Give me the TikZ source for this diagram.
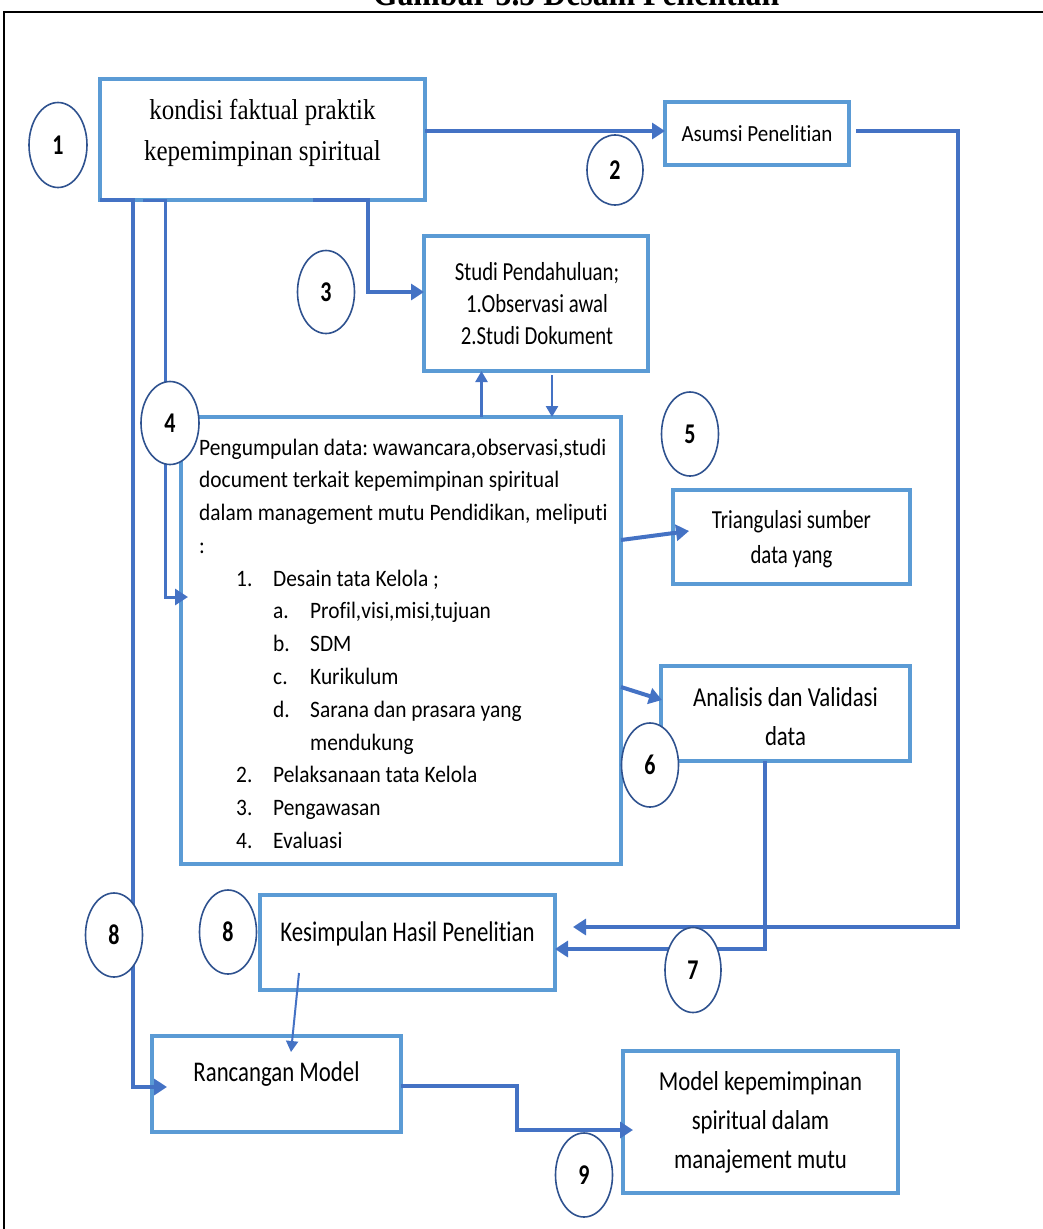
\documentclass[tikz,border=0pt]{standalone}
\usepackage{fontspec}
\setmainfont{Carlito}[Ligatures=NoCommon]
\newfontfamily\tnr{Liberation Serif}[Ligatures=NoCommon]
\usepackage{graphicx}
\usetikzlibrary{arrows.meta,calc,shapes.geometric}
\definecolor{boxblue}{RGB}{91,155,213}
\definecolor{lineblue}{RGB}{68,114,196}
\definecolor{navyc}{RGB}{47,82,143}
\newcommand\vst[3]{\scalebox{1}[#1]{\begin{tabular}{@{}#2@{}}#3\end{tabular}}}
\newcommand\vsl[2]{\scalebox{1}[#1]{#2}}
\frenchspacing
\begin{document}
\begin{tikzpicture}[x=1pt,y=-1pt,
  box/.style={rectangle,draw=boxblue,line width=3.2pt,inner sep=0pt,outer sep=0pt,anchor=north west},
  numc/.style={ellipse,draw=navyc,line width=1.6pt,fill=white,inner sep=0pt,minimum width=57pt,minimum height=84pt,font=\fontsize{22}{26}\selectfont\bfseries},
  conn/.style={draw=lineblue,line width=3.5pt},
  arrowbig/.style={-{Triangle[length=13pt,width=16pt]}},
  arrowsmall/.style={-{Triangle[length=11pt,width=12pt]}},
  lbl/.style={inner sep=0pt}]
\useasboundingbox (0,0) rectangle (1043,1229);
\clip (0,0) rectangle (1043,1229);
% frame and title
\draw[black,line width=1.5pt] (1060,12) -- (4,12) -- (4,1240);
\node[lbl,anchor=base,font=\tnr\bfseries\fontsize{31.8}{36}\selectfont] (title) at (576,5) {\vsl{1.15}{Gambar 3.5 Desain Penelitian}};
% boxes
\node[box,minimum width=325pt,minimum height=121pt] (b1) at (100,79) {};
\node[box,minimum width=184pt,minimum height=63pt] (asumsi) at (665,102) {};
\node[box,minimum width=224pt,minimum height=135pt] (studi) at (424,236) {};
\node[box,minimum width=440pt,minimum height=447pt] (kumpul) at (181,417) {};
\node[box,minimum width=237pt,minimum height=94pt] (tri) at (673,490) {};
\node[box,minimum width=249pt,minimum height=95pt] (anal) at (661,666) {};
\node[box,minimum width=295pt,minimum height=95pt] (kes) at (260,895) {};
\node[box,minimum width=249pt,minimum height=96pt] (ranc) at (152,1036) {};
\node[box,minimum width=275pt,minimum height=142pt] (model) at (623,1051) {};
% texts
\node[lbl,font=\tnr\fontsize{25}{34.8}\selectfont] (t1) at (262.5,132) {\vst{1.15}{c}{kondisi faktual praktik\\kepemimpinan spiritual}};
\node[lbl,anchor=base,font=\fontsize{21}{24}\selectfont] (t2) at (757,141.7) {\vsl{1.1}{Asumsi Penelitian}};
\node[lbl,font=\fontsize{20.8}{25.6}\selectfont] (t3) at (537,306) {\vst{1.25}{c}{Studi Pendahuluan;\\1.Observasi awal\\2.Studi Dokument}};
\node[lbl,anchor=west,font=\fontsize{21.4}{29.8}\selectfont] (t4) at (199,645.2) {\vst{1.1}{l}{Pengumpulan data: wawancara,observasi,studi\\
document terkait kepemimpinan spiritual\\
dalam management mutu Pendidikan, meliputi\\
:\\
\hspace*{37pt}\makebox[37pt][l]{1.}Desain tata Kelola ;\\
\hspace*{74pt}\makebox[37pt][l]{a.}Profil,visi,misi,tujuan\\
\hspace*{74pt}\makebox[37pt][l]{b.}SDM\\
\hspace*{74pt}\makebox[37pt][l]{c.}Kurikulum\\
\hspace*{74pt}\makebox[37pt][l]{d.}Sarana dan prasara yang\\
\hspace*{111pt}mendukung\\
\hspace*{37pt}\makebox[37pt][l]{2.}Pelaksanaan tata Kelola\\
\hspace*{37pt}\makebox[37pt][l]{3.}Pengawasan\\
\hspace*{37pt}\makebox[37pt][l]{4.}Evaluasi}};
\node[lbl,font=\fontsize{20.8}{28}\selectfont] (t5) at (791.5,538.5) {\vst{1.25}{c}{Triangulasi sumber\\data yang}};
\node[lbl,font=\fontsize{22.8}{32.5}\selectfont] (t6) at (785.5,717.7) {\vst{1.2}{c}{Analisis dan Validasi\\data}};
\node[lbl,anchor=base,font=\fontsize{22.8}{27}\selectfont] (t7) at (407.5,941.7) {\vsl{1.25}{Kesimpulan Hasil Penelitian}};
\node[lbl,anchor=base,font=\fontsize{22.8}{27}\selectfont] (t8) at (276.5,1081.7) {\vsl{1.25}{Rancangan Model}};
\node[lbl,font=\fontsize{22.8}{32.3}\selectfont] (t9) at (760.5,1121.6) {\vst{1.2}{c}{Model kepemimpinan\\spiritual dalam\\manajement mutu}};
% connectors
\coordinate (rc) at (958,927);
\coordinate (m9) at (517,1086);
\draw[conn,line width=3.5pt,arrowbig] ([yshift=8.5pt]b1.east) -- ([yshift=8.5pt]b1.east -| asumsi.west);
\draw[conn,line width=4.5pt,arrowbig] ([xshift=7pt,yshift=2.5pt]asumsi.east) -| (rc) -- ([xshift=18pt]kes.east |- rc);
\draw[conn,line width=4.5pt,arrowbig] ([xshift=-20.5pt]anal.south) |- ([yshift=-6.5pt]kes.east);
\draw[conn,arrowbig] ([xshift=50.5pt]b1.south) -- ([xshift=105.5pt]b1.south) |- ([yshift=11.5pt]studi.west);
\draw[conn,line width=3pt,arrowbig] ([xshift=-119.5pt]b1.south) -- ([xshift=-97.5pt]b1.south) |- ([xshift=7pt,yshift=43.5pt]kumpul.west);
\draw[conn,arrowbig] ([xshift=-162.5pt]b1.south) -- ([xshift=-129.5pt]b1.south) |- ([xshift=15pt,yshift=-3pt]ranc.west);
\draw[conn,line width=2.5pt,arrowsmall] ([xshift=-54.5pt]studi.south |- kumpul.north) -- ([xshift=-54.5pt]studi.south);
\draw[conn,line width=2.5pt,arrowsmall] ([xshift=16pt,yshift=-4pt]studi.south) -- ([xshift=16pt]studi.south |- kumpul.north);
\draw[conn,line width=4pt,arrowbig] ([yshift=100.5pt]kumpul.east) -- ([xshift=16pt,yshift=6pt]tri.west);
\draw[conn,line width=4pt,arrowbig] ([yshift=-46.5pt]kumpul.east) -- ([xshift=1pt,yshift=13.5pt]anal.west);
\draw[conn,line width=2pt,arrowsmall] ([xshift=-108.5pt,yshift=17pt]kes.south) -- ([xshift=14.5pt,yshift=-16pt]ranc.north);
\draw[conn,line width=4.5pt,arrowbig] ([yshift=-2pt]ranc.east) -- (m9) |- ([xshift=10pt,yshift=-8pt]model.west);
% numbered ellipses
\node[numc,minimum width=58pt,minimum height=85pt] (n1) at (58,145) {\vsl{1.3}{1}};
\node[numc,minimum width=56pt,minimum height=70pt] (n2) at (615,170) {\vsl{1.3}{2}};
\node[numc,minimum height=83pt] (n3) at (326,292) {\vsl{1.3}{3}};
\node[numc,minimum width=58pt,minimum height=83pt] (n4) at (170,423) {\vsl{1.3}{4}};
\node[numc] (n5) at (690,434) {\vsl{1.3}{5}};
\node[numc] (n6) at (650,765) {\vsl{1.3}{6}};
\node[numc,minimum width=56pt,minimum height=85pt] (n7) at (693,970) {\vsl{1.3}{7}};
\node[numc] (n8a) at (114,935) {\vsl{1.3}{8}};
\node[numc] (n8b) at (228,932) {\vsl{1.3}{8}};
\node[numc] (n9) at (584,1175) {\vsl{1.3}{9}};
\end{tikzpicture}
\end{document}
